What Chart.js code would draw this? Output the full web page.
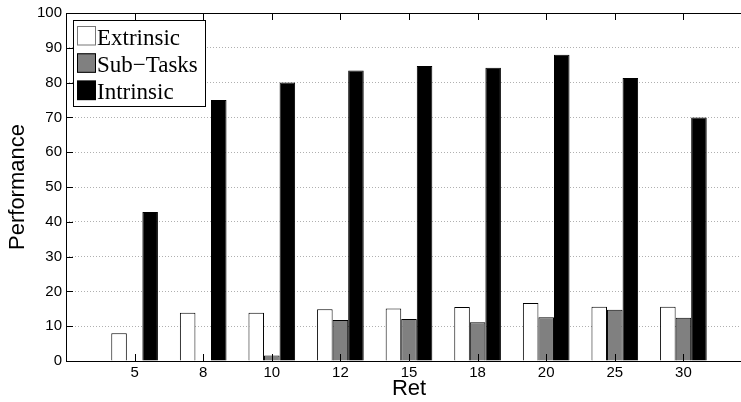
<!DOCTYPE html>
<html>
<head>
<meta charset="utf-8">
<script src="https://cdn.jsdelivr.net/npm/chart.js@4.4.1/dist/chart.umd.min.js"></script>
<style>
  html, body { margin: 0; padding: 0; background: #fff; overflow: hidden; }
  #wrap { width: 741px; height: 402px; overflow: hidden; }
</style>
</head>
<body>
<div id="wrap"><canvas id="chart" width="754" height="402"></canvas></div>
<script>
// values
const categories = ['5', '8', '10', '12', '15', '18', '20', '25', '30'];
const extrinsic = [8.0, 13.9, 13.9, 14.9, 15.1, 15.5, 16.7, 15.6, 15.6];
const subTasks = [0, 0, 1.6, 11.8, 12.1, 11.1, 12.6, 14.7, 12.4];
const intrinsic = [42.8, 75, 80, 83.5, 84.8, 84.3, 88, 81.3, 70];
const yTicks = [0, 10, 20, 30, 40, 50, 60, 70, 80, 90, 100];

const toPoints = arr => arr.map((v, i) => ({ x: i + 1, y: v }));

// matlab-ish box with inward ticks + legend in the top left
const boxPlugin = {
    id: 'boxPlugin',
    afterDatasetsDraw(chart) {
        const ctx = chart.ctx;
        const a = chart.chartArea;
        const xs = chart.scales.x;
        const ys = chart.scales.y;
        ctx.save();
        ctx.strokeStyle = '#000';
        ctx.lineWidth = 1;
        ctx.beginPath();
        ctx.rect(Math.round(a.left) + 0.5, Math.round(a.top) + 0.5, Math.round(a.right - a.left), Math.round(a.bottom - a.top));
        ctx.stroke();

        ctx.beginPath();
        yTicks.forEach(t => {
            const y = Math.round(ys.getPixelForValue(t)) + 0.5;
            ctx.moveTo(a.left, y); ctx.lineTo(a.left + 7, y);
            ctx.moveTo(a.right, y); ctx.lineTo(a.right - 7, y);
        });
        categories.forEach((c, i) => {
            const x = Math.round(xs.getPixelForValue(i + 1)) + 0.5;
            ctx.moveTo(x, a.bottom); ctx.lineTo(x, a.bottom - 7);
            ctx.moveTo(x, a.top); ctx.lineTo(x, a.top + 7);
        });
        ctx.stroke();

        // legend
        const lx = 73.5, ly = 20.5, lw = 132, lh = 86;
        ctx.fillStyle = '#fff';
        ctx.fillRect(lx, ly, lw, lh);
        ctx.strokeRect(lx, ly, lw, lh);
        ctx.font = '23px "Liberation Serif", "Times New Roman", serif';
        ctx.textBaseline = 'alphabetic';
        ctx.textAlign = 'left';
        chart.data.datasets.forEach((ds, i) => {
            const top = 26 + i * 27.3;
            ctx.fillStyle = ds.backgroundColor;
            ctx.fillRect(77, top, 19, 19.5);
            ctx.strokeStyle = i === 0 ? '#777' : '#000';
            ctx.strokeRect(77.5, top + 0.5, 18, 18.5);
            ctx.fillStyle = '#000';
            ctx.fillText(ds.label, 97, top + 18.5);
        });
        ctx.restore();
    }
};

const ctx = document.getElementById('chart').getContext('2d');
new Chart(ctx, {
    type: 'bar',
    data: {
        datasets: [
            { label: 'Extrinsic', data: toPoints(extrinsic), backgroundColor: '#ffffff', borderColor: '#000', borderWidth: 1 },
            { label: 'Sub\u2212Tasks', data: toPoints(subTasks), backgroundColor: '#808080', borderColor: '#000', borderWidth: 1 },
            { label: 'Intrinsic', data: toPoints(intrinsic), backgroundColor: '#000000', borderColor: '#000', borderWidth: 1 }
        ]
    },
    options: {
        responsive: false,
        animation: false,
        devicePixelRatio: 1,
        layout: { padding: { top: 13, right: 2, left: 0, bottom: 0 } },
        datasets: { bar: { categoryPercentage: 0.68, barPercentage: 1.0 } },
        plugins: { legend: { display: false }, tooltip: { enabled: false } },
        scales: {
            x: {
                type: 'linear',
                offset: false,
                min: 0,
                max: 10,
                afterBuildTicks: scale => { scale.ticks = categories.map((c, i) => ({ value: i + 1 })); },
                afterFit: scale => { scale.height = 41; },
                grid: { display: false, drawTicks: false, offset: false },
                border: { display: false },
                ticks: {
                    padding: 3,
                    color: '#000',
                    font: { family: '"Liberation Sans", Arial, sans-serif', size: 15 },
                    callback: v => categories[v - 1]
                },
                title: {
                    display: true,
                    text: 'Ret',
                    color: '#000',
                    padding: { top: 0, bottom: 0 },
                    font: { family: '"Liberation Sans", Arial, sans-serif', size: 22 }
                }
            },
            y: {
                min: 0,
                max: 100,
                afterBuildTicks: scale => { scale.ticks = yTicks.map(v => ({ value: v })); },
                afterFit: scale => { scale.width = 66; },
                grid: {
                    drawTicks: false,
                    color: '#b0b0b0',
                    lineWidth: 1
                },
                border: { display: false, dash: [1, 2] },
                ticks: {
                    padding: 4,
                    color: '#000',
                    font: { family: '"Liberation Sans", Arial, sans-serif', size: 15 }
                },
                title: {
                    display: true,
                    text: 'Performance',
                    color: '#000',
                    padding: { top: 5, bottom: 0 },
                    font: { family: '"Liberation Sans", Arial, sans-serif', size: 22 }
                }
            }
        }
    },
    plugins: [boxPlugin]
});
</script>
</body>
</html>
